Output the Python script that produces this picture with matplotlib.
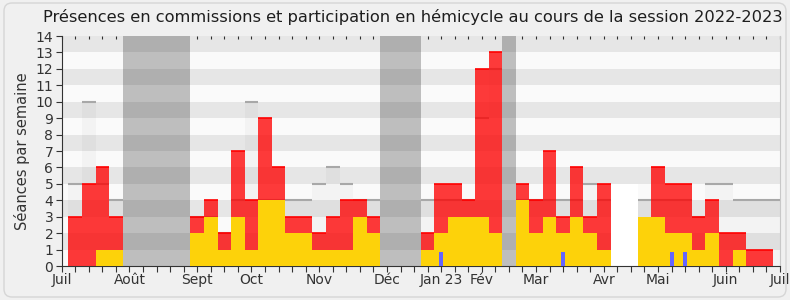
import numpy as np
import matplotlib
matplotlib.use("Agg")
import matplotlib.pyplot as plt
from matplotlib.patches import FancyBboxPatch

# weekly values, week 1 = first week of July 2022
weeks = np.arange(1, 54)
hemicycle = [0, 0, 1, 1, 0, 0, 0, 0, 0, 2, 3, 1, 3, 1, 4, 4, 2, 2, 1, 1,
             1, 3, 2, 0, 0, 0, 1, 2, 3, 3, 3, 2, 0, 4, 2, 3, 2, 3, 2, 1,
             0, 0, 3, 3, 2, 2, 1, 2, 0, 1, 0, 0, 0]
commission = [3, 5, 5, 2, 0, 0, 0, 0, 0, 1, 1, 1, 4, 3, 5, 2, 1, 1, 1, 2,
              3, 1, 1, 0, 0, 0, 1, 3, 2, 1, 9, 11, 0, 1, 2, 4, 1, 3, 1, 4,
              0, 0, 0, 3, 3, 3, 2, 2, 2, 1, 1, 1, 0]
median = [5, 10, 5, 4, 0, 0, 0, 0, 0, 3, 3, 2, 4, 10, 4, 4, 4, 4, 5, 6,
          5, 4, 4, 0, 0, 0, 4, 4, 4, 4, 9, 12, 0, 4, 4, 4, 4, 4, 5, 4,
          0, 0, 4, 4, 4, 4, 3, 5, 5, 4, 4, 4, 4]
questions = [0] * 53
for w in (28, 37, 45, 46):
    questions[w - 1] = 1

vacations = [(5, 9), (24, 26), (33, 33)]
no_session = [41, 42]
no_session_height = 5

month_labels = ["Juil", "Août", "Sept", "Oct", "Nov", "Déc", "Jan 23", "Fév",
                "Mar", "Avr", "Mai", "Juin", "Juil"]
month_pos = [0, 5, 10, 14, 19, 24, 28, 31, 35, 40, 44, 49, 53]

hemicycle = np.array(hemicycle)
commission = np.array(commission)
median = np.array(median)
questions = np.array(questions)

fig = plt.figure(figsize=(7.9, 3.0), dpi=100, facecolor="#f0f0f0")
fig.add_artist(FancyBboxPatch((4, 3), 782, 294, boxstyle="round,pad=0,rounding_size=8",
                              transform=None, facecolor="none", edgecolor="#d6d6d6", lw=1))
ax = fig.add_axes([61.7 / 790, 1 - 266 / 300, (780 - 61.7) / 790, 230 / 300])
ax.set_facecolor("#fafafa")

for a, b in vacations:
    ax.axvspan(a - 0.5, b + 0.5, color="#bebebe", lw=0, zorder=1)

ax.bar(weeks, median, width=1, color="#f3f3f3", lw=0, zorder=1.5)

for k in range(1, 14, 2):
    ax.axhspan(k, k + 1, color="black", alpha=0.08, lw=0, zorder=2)

ax.bar(no_session, [no_session_height] * len(no_session), width=1, color="white", lw=0, zorder=2.5)

# median top line, under the red so it only darkens it a bit
m = median > 0
ax.hlines(median[m], weeks[m] - 0.5, weeks[m] + 0.5, color="#a8a8a8", lw=1.5, zorder=2.8)

total = hemicycle + commission
ax.bar(weeks, commission, bottom=hemicycle, width=1, color="#ff0000", alpha=0.77, lw=0, zorder=3)
m = commission > 0
ax.hlines(total[m], weeks[m] - 0.5, weeks[m] + 0.5, color="#ff0000", lw=1.2, zorder=3.2)
ax.bar(weeks, hemicycle, width=1, color="#fdd20a", lw=0, zorder=3.5)

ax.bar(weeks, questions * 0.87, width=0.3, color="#6464ff", lw=0, zorder=5)

ax.set_xlim(0, 53)
ax.set_ylim(0, 14)
ax.set_yticks(range(0, 15))
ax.tick_params(axis="y", length=4, color="#333333", labelcolor="#333333", labelsize=10, pad=2)

ticks = list(range(0, 54))
labels = [""] * len(ticks)
for lab, p in zip(month_labels, month_pos):
    labels[p] = lab
ax.set_xticks(ticks)
ax.set_xticklabels(labels)
ax.tick_params(axis="x", length=4, color="#333333", labelcolor="#333333", labelsize=10, pad=1,
               top=False, direction="out")
sec = ax.secondary_xaxis("top")
sec.set_xticks(ticks)
sec.set_xticklabels([])
sec.tick_params(direction="in", length=2, color="#333333")
sec.spines["top"].set_visible(False)

ax.spines["top"].set_visible(False)
ax.spines["right"].set_color("#c8c8c8")
ax.spines["left"].set_color("#333333")
ax.spines["bottom"].set_color("#333333")

ax.set_ylabel("Séances par semaine", fontsize=10.5, color="#333333", labelpad=4)
fig.text(413 / 790, 1 - 17 / 300, "Présences en commissions et participation en hémicycle au cours de la session 2022-2023",
         ha="center", va="center", fontsize=11.7, color="#1e1e1e")

fig.savefig("out.png", dpi=100)
